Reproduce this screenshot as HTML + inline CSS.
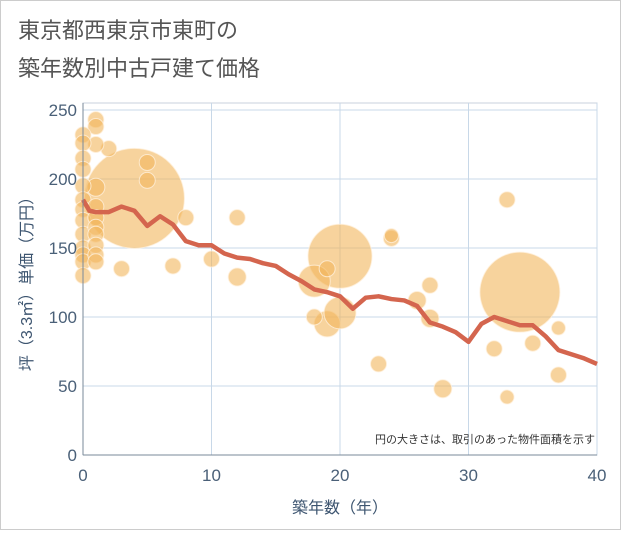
<!DOCTYPE html>
<html><head><meta charset="utf-8"><style>
body{margin:0;background:#fff;font-family:"Liberation Sans","Noto Sans CJK JP",sans-serif}
#wrap{position:relative;width:621px;height:530px}
</style></head><body>
<div id="wrap">
<svg id="svg" width="621" height="530" xmlns="http://www.w3.org/2000/svg" font-family="Liberation Sans, Noto Sans CJK JP, sans-serif">
<rect x="0.5" y="0.5" width="620" height="529" fill="#fff" stroke="#ccc"/>
<text x="18" y="38" font-size="22" fill="#555">東京都西東京市東町の</text>
<text x="18" y="76" font-size="22" fill="#555">築年数別中古戸建て価格</text>
<g id="grid"></g><g id="bubbles"></g><g id="line"></g><g id="axes"></g>
<text x="595" y="443" font-size="11" fill="#333" text-anchor="end">円の大きさは、取引のあった物件面積を示す</text>
<text x="340" y="513" font-size="16" fill="#3d5570" text-anchor="middle">築年数（年）</text>
<text transform="translate(32,280) rotate(-90)" font-size="16" fill="#3d5570" text-anchor="middle">坪（3.3㎡）単価（万円）</text>
</svg>
</div>
<script>
const xTicks=[0,10,20,30,40];
const yTicks=[0,50,100,150,200,250];
const lineYears=[0,0.5,1,2,3,4,5,6,7,8,9,10,11,12,13,14,15,16,17,18,19,20,21,22,23,24,25,26,27,28,29,30,31,32,33,34,35,36,37,38,39,40];
const lineValues=[185,177,176,176,180,177,166,173,167,155,152,152,146,143,142,139,137,131,126,120,118,115,106,114,115,113,112,108,96,93,89,82,95,100,97,94,94,86,76,73,70,66];
const bubbleYears=[4,20,34,18,19,20,19,18,23,24,24,26,27,27,28,32,33,33,35,37,37,12,12,10,7,8,3,5,5,2,1,1,1,1,0,0,0,0,0,0,0,0,0,0,0,0,0,1,1,1,1,1,1,1];
const bubbleValues=[186,144,118,126,95,103,135,100,66,157,159,112,123,99,48,77,185,42,81,92,58,172,129,142,137,172,135,212,199,222,243,238,225,194,232,226,215,207,195,185,178,170,160,150,145,140,130,180,172,165,160,152,145,140];
const bubbleSizes=[50,32,40,16,13,16,8,8,8,8,7,9,8,9,9,8,8,7,8,7,8,8,9,8,8,8,8,8,8,8,8,8,8,9,8,8,8,8,8,8,8,8,8,8,8,8,8,8,8,8,8,8,8,8];
const X0=83,X1=597,Y0=455,Y1=103;
const xs=v=>X0+(X1-X0)*v/40;
const ys=v=>Y0-(Y0-110)*v/250;
const NS="http://www.w3.org/2000/svg";
function mk(t,a,p){const e=document.createElementNS(NS,t);for(const k in a)e.setAttribute(k,a[k]);p.appendChild(e);return e;}
const grid=document.getElementById('grid'),axes=document.getElementById('axes');
mk('rect',{x:X0,y:Y1,width:X1-X0,height:Y0-Y1,fill:'none',stroke:'#c8d2dc'},grid);
xTicks.forEach(t=>{const l=mk('line',{x1:xs(t),x2:xs(t),y1:Y1,y2:Y0,stroke:'#c8d8e8'},grid);


const tx=mk('text',{x:xs(t),y:Y0+26,'font-size':17,fill:'#4a6078','text-anchor':'middle'},axes);tx.textContent=t;

});
yTicks.forEach(t=>{const l=mk('line',{x1:X0,x2:X1,y1:ys(t),y2:ys(t),stroke:'#c8d8e8'},grid);


const tx=mk('text',{x:X0-6,y:ys(t)+6,'font-size':17,fill:'#4a6078','text-anchor':'end'},axes);tx.textContent=t;

});
mk('line',{x1:X0,x2:X1,y1:Y0,y2:Y0,stroke:'#7a8a9a'},axes);
mk('line',{x1:X0,x2:X0,y1:Y1,y2:Y0,stroke:'#7a8a9a'},axes);
const bg=document.getElementById('bubbles');
bubbleYears.forEach((yr,i)=>{const c=mk('circle',{cx:xs(yr),cy:ys(bubbleValues[i]),r:bubbleSizes[i],fill:'rgba(242,182,92,0.6)',stroke:'rgba(255,240,220,0.8)','stroke-width':1},bg);

});
const pts=lineYears.map((y,i)=>xs(y)+','+ys(lineValues[i])).join(' ');
const pl=mk('polyline',{points:pts,fill:'none',stroke:'#d4654e','stroke-width':4.5,'stroke-linejoin':'round'},document.getElementById('line'));


</script>
</body></html>
